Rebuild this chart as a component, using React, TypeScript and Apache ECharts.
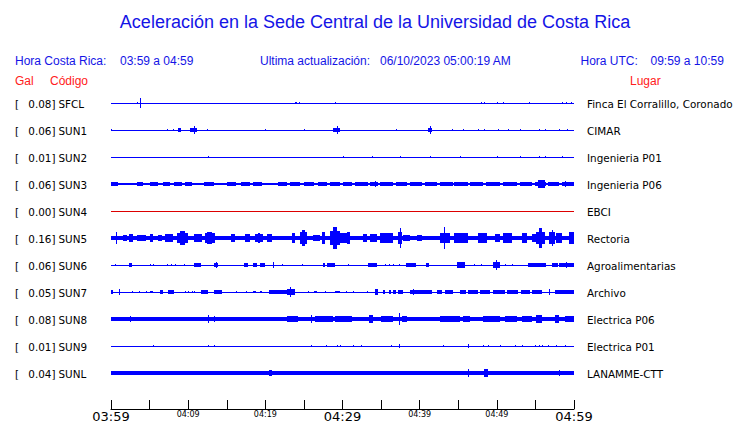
import React, { useEffect, useRef } from "react";
import * as echarts from "echarts";

// ---------- DATA ----------
const codes = ["SFCL", "SUN1", "SUN2", "SUN3", "SUN4", "SUN5", "SUN6", "SUN7", "SUN8", "SUN9", "SUNL"];
const gals = ["0.08", "0.06", "0.01", "0.06", "0.00", "0.16", "0.06", "0.05", "0.08", "0.01", "0.04"];
const places = [
  "Finca El Corralillo, Coronado", "CIMAR", "Ingenieria P01", "Ingenieria P06", "EBCI", "Rectoria",
  "Agroalimentarias", "Archivo", "Electrica P06", "Electrica P01", "LANAMME-CTT",
];
// background noise half-amplitude of each trace (row spacing = 10 units)
const baseNoise = [0, 0, 0, 0.25, 0, 0.63, 0, 0, 0.63, 0, 0.63];
// x-axis labels every 10 minutes from 03:59
const tickLabels = ["03:59", "04:09", "04:19", "04:29", "04:39", "04:49", "04:59"];

// events: [startMinute, endMinute, halfAmplitude]
const sfclEvents = [
  [3.4, 3.4, 0.3], [3.7, 3.7, 2.0], [23.9, 24.1, 0.5], [24.3, 24.5, 0.5], [29.0, 29.0, 0.4],
  [48.0, 48.0, 0.4], [48.4, 48.4, 0.4], [50.0, 50.0, 0.4], [50.8, 50.8, 0.3], [54.2, 54.2, 0.3],
  [58.5, 58.5, 0.4], [59.0, 59.0, 0.4], [59.6, 59.6, 0.5],
];
const sun1Events = [
  [0, 0, 0.4], [7.3, 7.3, 0.4], [8.0, 8.0, 0.5], [8.7, 9.0, 0.6], [9.0, 9.0, 0.8], [10.3, 11.1, 0.9],
  [10.7, 10.7, 1.5], [12.5, 12.5, 0.4], [19.9, 19.9, 0.3], [25.0, 25.0, 0.5], [28.8, 29.7, 0.9],
  [29.3, 29.3, 1.5], [36.9, 36.9, 0.4], [41.1, 41.6, 0.7], [41.3, 41.3, 1.5], [44.2, 44.2, 0.4],
  [45.6, 45.6, 0.5], [47.5, 47.5, 0.4], [48.4, 48.4, 0.4], [50.1, 50.1, 0.5], [51.4, 51.4, 0.4],
  [53.0, 53.0, 0.4], [55.5, 55.5, 0.5], [56.2, 56.2, 0.4], [58.1, 58.1, 0.4], [59.1, 59.1, 0.4],
];
const sun2Events = [
  [12.6, 12.6, 0.4], [30.1, 30.1, 0.3], [33.8, 33.8, 0.4], [37.4, 37.4, 0.55], [41.3, 41.3, 0.3],
  [45.2, 45.2, 0.4], [50.0, 50.0, 0.3], [53.0, 53.0, 0.3], [55.5, 55.5, 0.5], [56.2, 56.2, 0.3],
  [58.4, 58.4, 0.4],
];
const sun3Events = [
  [0, 0.6, 0.6], [0.7, 0.9, 0.6], [1.6, 2.5, 0.55], [2.8, 2.8, 0.5], [3.4, 4.2, 0.6], [4.7, 4.8, 0.55],
  [5.1, 6.1, 0.65], [6.8, 7.7, 0.6], [8.1, 9.2, 0.6], [9.6, 10.5, 0.6], [10.9, 11.6, 0.55],
  [12.1, 13.4, 0.6], [13.9, 14.4, 0.55], [15.0, 16.2, 0.6], [16.8, 18.0, 0.6], [18.4, 19.6, 0.6],
  [20.2, 21.0, 0.55], [21.6, 22.8, 0.6], [23.2, 24.5, 0.6], [25.0, 26.3, 0.6], [26.8, 28.0, 0.6],
  [28.4, 29.7, 0.6], [30.1, 31.2, 0.6], [31.6, 33.3, 0.65], [33.6, 34.6, 0.7], [34.2, 34.2, 1.0],
  [34.9, 36.5, 0.65], [36.9, 38.3, 0.65], [38.7, 40.3, 0.65], [40.7, 42.2, 0.65], [42.6, 44.3, 0.7],
  [44.5, 46.2, 0.7], [46.5, 48.2, 0.7], [48.6, 50.4, 0.7], [50.8, 52.6, 0.7], [53.0, 54.6, 0.75],
  [54.9, 56.4, 0.8], [55.3, 56.2, 1.3], [55.9, 55.9, 1.5], [56.6, 58.1, 0.75], [58.4, 60, 0.75],
  [58.8, 58.8, 1.0],
];
const sun4Events: number[][] = [];
const sun5Events = [
  [0.7, 0.7, 2.2], [1.6, 2.1, 1.2], [2.3, 2.9, 1.6], [3.4, 4.5, 0.93], [5.1, 5.5, 1.5], [6.1, 6.6, 0.93],
  [7.0, 8.0, 1.5], [8.6, 10.0, 2.0], [9.0, 9.6, 2.5], [10.7, 11.8, 1.3], [12.2, 13.5, 1.8],
  [12.5, 13.1, 2.4], [15.5, 16.1, 1.5], [17.4, 18.0, 1.5], [18.7, 19.7, 1.6], [19.1, 19.3, 1.85],
  [20.2, 20.9, 1.5], [22.2, 22.8, 0.74], [23.5, 23.9, 2.0], [24.5, 25.4, 2.2], [24.8, 25.1, 3.0],
  [26.2, 27.1, 1.1], [27.3, 27.7, 2.4], [28.4, 29.7, 2.6], [28.8, 29.3, 4.1], [29.7, 31.0, 1.85],
  [30.6, 31.0, 2.2], [31.4, 32.3, 0.74], [32.7, 33.2, 1.5], [33.6, 34.5, 1.5], [34.9, 36.5, 1.67],
  [37.2, 37.7, 2.2], [37.4, 37.4, 3.7], [37.8, 38.7, 1.1], [39.6, 40.3, 1.1], [40.7, 41.3, 0.74],
  [42.6, 43.9, 1.8], [43.1, 43.1, 4.1], [44.5, 46.2, 1.85], [47.5, 48.7, 1.85], [49.7, 50.4, 1.5],
  [50.8, 52.0, 1.85], [53.2, 53.9, 1.67], [54.5, 55.1, 1.5], [55.1, 56.2, 2.2], [55.5, 55.9, 3.7],
  [56.8, 57.5, 2.4], [57.2, 57.2, 3.0], [57.7, 58.4, 1.85], [59.4, 60, 2.2],
];
const sun6Events = [
  [0.5, 0.5, 0.3], [2.3, 2.7, 0.63], [5.1, 5.1, 0.37], [5.5, 5.5, 0.37], [7.3, 7.3, 0.5], [7.8, 7.8, 0.5],
  [8.3, 8.3, 0.5], [9.5, 9.5, 0.37], [10.8, 11.6, 0.63], [13.3, 13.9, 0.63], [13.6, 13.6, 1.1],
  [17.3, 17.8, 0.63], [18.4, 18.9, 0.63], [19.3, 19.9, 0.63], [21.0, 21.0, 0.93], [22.2, 22.2, 0.4],
  [24.8, 24.8, 0.5], [27.5, 27.7, 0.63], [28.0, 29.0, 0.63], [30.7, 30.7, 0.3], [33.3, 34.5, 0.63],
  [35.5, 35.5, 0.5], [36.0, 36.0, 0.5], [36.5, 36.5, 0.5], [37.3, 37.3, 0.3], [38.2, 39.5, 0.63],
  [40.8, 41.2, 0.63], [44.8, 45.9, 0.93], [45.3, 45.3, 1.1], [47.0, 47.0, 0.3], [48.0, 48.0, 0.4],
  [49.5, 50.4, 1.0], [49.9, 49.9, 1.85], [51.0, 51.0, 0.4], [52.0, 52.0, 0.4], [54.0, 56.4, 0.7],
  [57.1, 57.9, 0.7], [58.1, 60, 0.74], [59.0, 59.0, 0.93],
];
const sun7Events = [
  [0, 0.3, 0.63], [1.0, 1.0, 1.1], [2.7, 2.7, 0.4], [3.6, 3.6, 0.4], [4.5, 4.5, 0.4], [5.1, 5.5, 0.5],
  [6.3, 6.8, 0.63], [7.4, 8.2, 0.63], [9.6, 9.6, 0.4], [10.0, 10.0, 0.4], [10.5, 10.5, 0.4],
  [10.8, 10.8, 0.4], [11.6, 12.6, 0.63], [13.3, 14.4, 0.63], [16.2, 16.2, 0.3], [17.5, 17.5, 0.4],
  [18.4, 18.8, 0.5], [19.3, 19.6, 0.5], [20.5, 22.8, 0.74], [22.8, 23.9, 1.1], [23.2, 23.2, 1.85],
  [25.5, 25.5, 0.4], [26.3, 26.7, 0.5], [27.7, 27.7, 0.4], [29.0, 29.7, 0.5], [30.5, 30.5, 0.4],
  [31.4, 31.4, 0.4], [33.2, 33.2, 0.3], [34.2, 34.6, 0.93], [35.2, 35.5, 0.63], [36.0, 36.3, 0.63],
  [36.5, 36.9, 0.63], [37.2, 37.8, 0.63], [38.7, 41.6, 0.8], [39.1, 39.1, 1.1], [42.2, 42.9, 0.63],
  [43.3, 44.3, 0.63], [45.2, 46.0, 0.63], [46.3, 47.5, 0.63], [47.8, 49.1, 0.63], [49.5, 51.0, 0.63],
  [51.3, 52.8, 0.63], [53.1, 54.3, 0.63], [54.6, 55.9, 0.63], [56.8, 56.8, 1.1], [57.5, 60, 0.63],
];
const sun8Events = [
  [2.4, 2.4, 0.93], [5.6, 5.6, 0.9], [7.3, 7.3, 0.8], [10.9, 10.9, 0.8], [12.6, 12.6, 1.3],
  [13.4, 13.4, 0.93], [16.4, 16.4, 0.8], [17.9, 17.9, 0.8], [18.4, 18.4, 0.8], [19.3, 19.3, 0.8],
  [19.7, 19.7, 0.8], [20.8, 20.8, 0.8], [22.8, 24.2, 0.93], [25.9, 25.9, 1.3], [26.4, 28.8, 0.93],
  [29.0, 31.2, 1.1], [31.6, 31.6, 0.8], [33.4, 33.9, 1.3], [35.0, 36.5, 0.93], [37.3, 37.3, 2.2],
  [37.7, 38.3, 1.1], [39.5, 39.5, 0.8], [41.6, 41.6, 0.8], [42.6, 45.2, 0.93], [45.6, 46.5, 0.93],
  [47.4, 47.4, 0.8], [48.2, 50.4, 0.93], [51.0, 52.6, 0.93], [53.2, 54.6, 0.93], [55.1, 55.9, 1.3],
  [56.6, 56.6, 0.8], [57.6, 58.1, 1.3], [58.8, 60, 0.93],
];
const sun9Events = [
  [5.5, 5.5, 0.5], [12.6, 12.6, 0.5], [13.4, 13.4, 0.5], [25.9, 25.9, 0.5], [27.9, 27.9, 0.5],
  [29.3, 29.3, 0.5], [29.7, 29.7, 0.5], [31.4, 31.4, 0.5], [32.4, 32.4, 0.5], [36.3, 36.3, 0.5],
  [37.3, 37.3, 0.74], [43.0, 43.0, 0.5], [46.2, 46.2, 0.63], [48.2, 48.2, 0.5], [48.8, 48.8, 0.5],
  [50.4, 50.4, 0.5], [52.3, 52.3, 0.5], [53.3, 53.3, 0.5], [54.9, 54.9, 0.5], [55.5, 55.5, 0.5],
  [55.9, 55.9, 0.5], [56.6, 56.6, 0.5], [57.7, 57.7, 0.5], [58.8, 58.8, 0.5],
];
const sunlEvents = [
  [0, 2.8, 0.74], [20.5, 20.9, 0.93], [46.2, 46.2, 1.3], [47.1, 47.1, 0.8], [48.4, 48.8, 1.3],
  [54.6, 54.6, 0.8], [55.1, 55.1, 0.8], [58.1, 58.1, 0.93],
];
const traceEvents = [
  sfclEvents, sun1Events, sun2Events, sun3Events, sun4Events, sun5Events,
  sun6Events, sun7Events, sun8Events, sun9Events, sunlEvents,
];

// ---------- STYLE ----------
const BLUE = "#0000ff";
const RED_TRACE = "#dd0000";
const HEAD_BLUE = "#1414e6";
const HEAD_RED = "#ff2020";
const SANS = "'Liberation Sans', Arial, sans-serif";
const DEJAVU = "'DejaVu Sans', sans-serif";
const ROW = 10; // row spacing in y units

function rectItem(color: string) {
  return (params: any, api: any) => {
    const s = api.value(0), e = api.value(1), a = api.value(2), r = api.value(3);
    const p1 = api.coord([s, r * ROW - a]);
    const p2 = api.coord([e, r * ROW + a]);
    const x = Math.round(p1[0]);
    const w = Math.max(1, Math.round(p2[0]) - x);
    const top = Math.round(Math.min(p1[1], p2[1]));
    const h = Math.max(1, Math.round(Math.max(p1[1], p2[1])) - top);
    return { type: "rect", shape: { x, y: top, width: w, height: h }, style: { fill: color } };
  };
}

export default function App() {
  const ref = useRef<HTMLDivElement>(null);
  useEffect(() => {
    if (!ref.current) return;
    const chart = echarts.init(ref.current, null, { renderer: "svg" });

    const traceSeries = traceEvents.map((ev, i) => ({
      type: "custom",
      name: codes[i],
      coordinateSystem: "cartesian2d",
      renderItem: rectItem(i === 4 ? RED_TRACE : BLUE),
      encode: { x: [0, 1], y: 3 },
      clip: false,
      silent: true,
      data: [[0, 60, baseNoise[i], i], ...ev.map((d) => [d[0], d[1], d[2], i])],
    }));

    const labelSeries = {
      type: "custom",
      coordinateSystem: "cartesian2d",
      clip: false,
      silent: true,
      encode: { x: 0, y: 1 },
      data: codes.map((_, i) => [0, i * ROW, i]),
      renderItem: (params: any, api: any) => {
        const i = api.value(2);
        const p = api.coord([0, i * ROW]);
        const y = p[1] + 0.5;
        const base = { fontFamily: DEJAVU, fontSize: 10.4, fill: "#000", verticalAlign: "middle" };
        return {
          type: "group",
          children: [
            { type: "text", style: { ...base, x: 15, y, text: "[", align: "left" } },
            { type: "text", style: { ...base, x: 55.5, y, text: gals[i] + "]", align: "right" } },
            { type: "text", style: { ...base, x: 58.5, y, text: codes[i], align: "left" } },
            { type: "text", style: { ...base, x: 587, y, text: places[i], align: "left" } },
          ],
        };
      },
    };

    const headText = (x: number, y: number, text: string, fill: string, size = 12, align = "left") => ({
      type: "text",
      x,
      y,
      style: { text, fill, fontFamily: SANS, fontSize: size, align, verticalAlign: "middle" },
    });

    chart.setOption({
      animation: false,
      backgroundColor: "#fff",
      grid: { left: 111, right: 166, top: 76, bottom: 14 },
      xAxis: {
        type: "value",
        position: "bottom",
        min: 0,
        max: 60,
        interval: 5,
        axisLine: { onZero: false, lineStyle: { color: "#000", width: 1 } },
        axisTick: { inside: true, length: 9, lineStyle: { color: "#000", width: 1 } },
        splitLine: { show: false },
        axisLabel: {
          margin: 1,
          showMinLabel: true,
          showMaxLabel: true,
          formatter: (v: number) => {
            if (v % 10 !== 0) return "";
            const t = tickLabels[v / 10];
            return v % 30 === 0 ? `{big|${t}}` : `{small|${t}}`;
          },
          rich: {
            big: { fontFamily: DEJAVU, fontSize: 13, color: "#000" },
            small: { fontFamily: DEJAVU, fontSize: 8, color: "#000" },
          },
        },
      },
      yAxis: { type: "value", inverse: true, min: -ROW, max: 113.33, show: false },
      graphic: [
        headText(375, 22, "Aceleración en la Sede Central de la Universidad de Costa Rica", HEAD_BLUE, 18, "center"),
        headText(15, 61, "Hora Costa Rica:", HEAD_BLUE),
        headText(120, 61, "03:59 a 04:59", HEAD_BLUE),
        headText(260, 61, "Ultima actualización:", HEAD_BLUE),
        headText(380, 61, "06/10/2023 05:00:19 AM", HEAD_BLUE),
        headText(580.5, 61, "Hora UTC:", HEAD_BLUE),
        headText(650.5, 61, "09:59 a 10:59", HEAD_BLUE),
        headText(15, 81, "Gal", HEAD_RED),
        headText(50, 81, "Código", HEAD_RED),
        headText(630, 81, "Lugar", HEAD_RED),
      ],
      series: [...traceSeries, labelSeries],
    });
    return () => chart.dispose();
  }, []);

  return (
    <div
      ref={ref}
      style={{ position: "fixed", left: 0, top: 0, width: 740, height: 423, background: "#fff" }}
    />
  );
}
